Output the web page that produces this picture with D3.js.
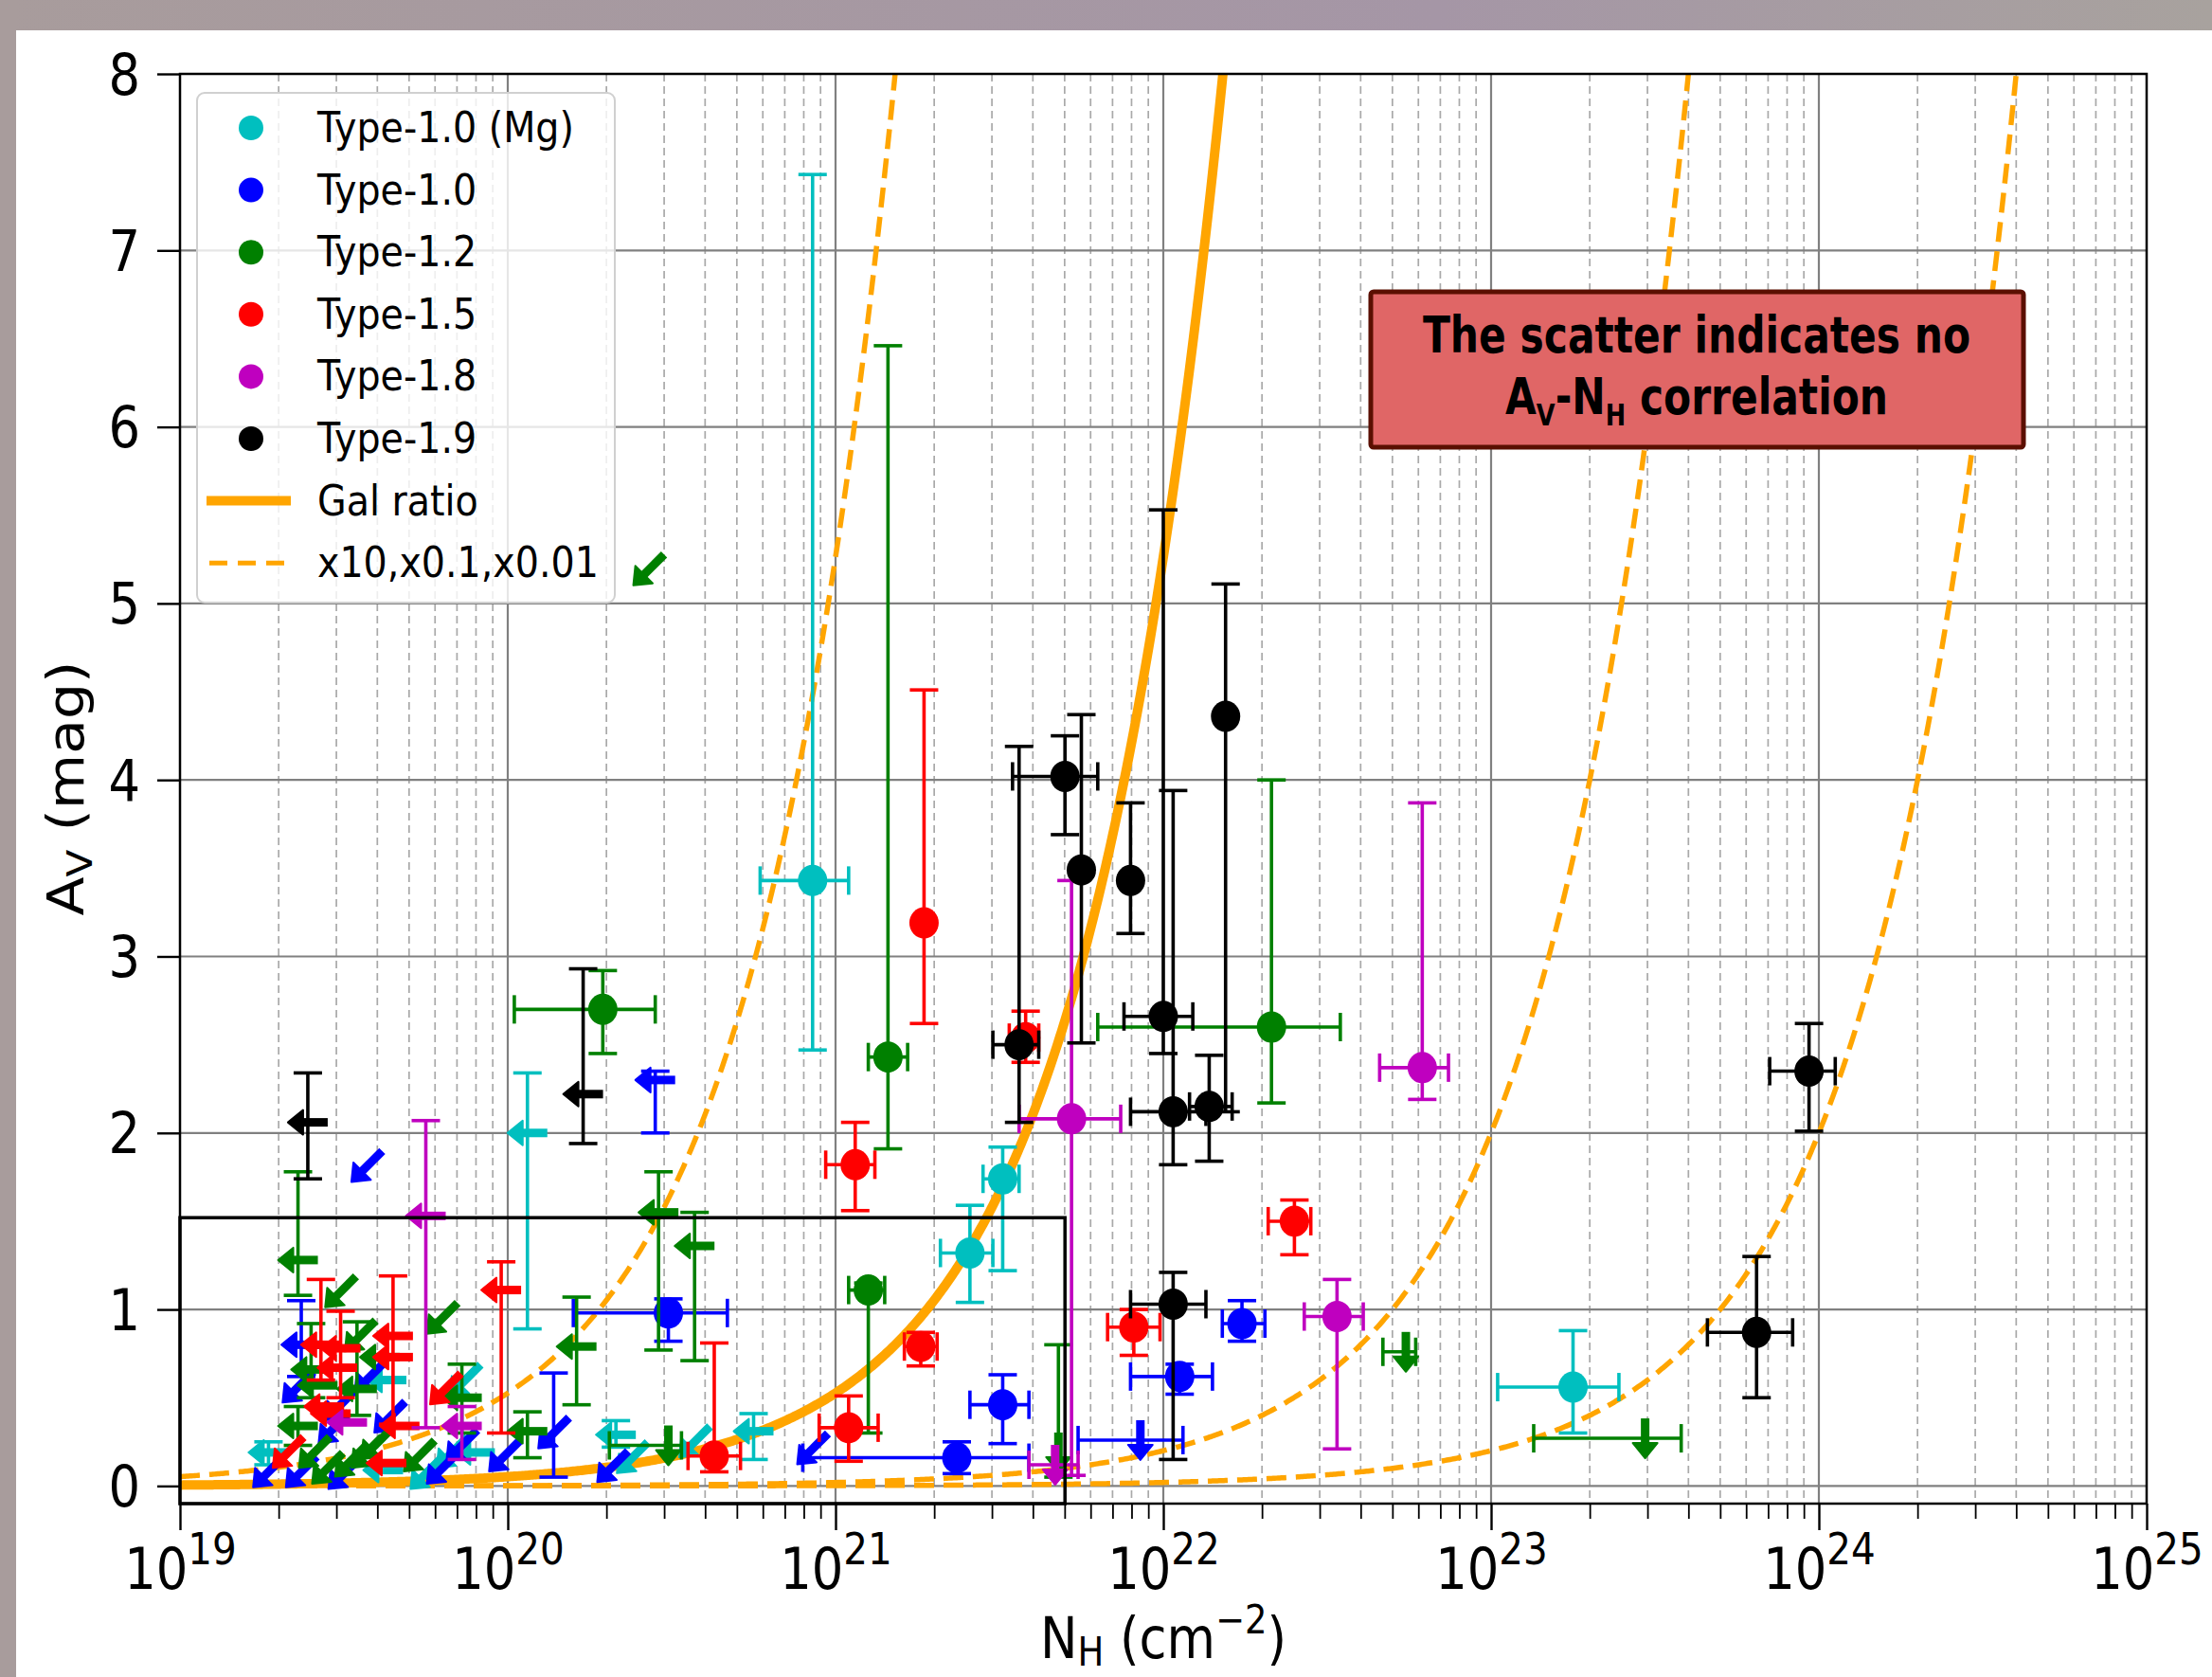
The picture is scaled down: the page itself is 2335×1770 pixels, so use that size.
<!DOCTYPE html>
<html>
<head>
<meta charset="utf-8">
<script src="https://cdn.jsdelivr.net/npm/d3@7"></script>
<style>
  html, body { margin: 0; padding: 0; background: #fff; }
  svg { display: block; }
  text { font-family: "DejaVu Sans", sans-serif; }
</style>
</head>
<body>
<div id="chart"></div>
<script>
// each point: [log10 NH, Av, log10 NH low, log10 NH high, Av low, Av high, kind]
// kind: 'o' detection, 'l' NH upper limit, 'd' NH and Av upper limits, 'v' Av upper limit
const type10Mg = [
  [20.93, 3.43, 20.77, 21.04, 2.47, 7.43, 'o'],
  [21.51, 1.74, 21.45, 21.56, 1.22, 1.92, 'o'],
  [21.41, 1.32, 21.32, 21.48, 1.04, 1.59, 'o'],
  [23.25, 0.56, 23.02, 23.39, 0.30, 0.88, 'o'],
  [20.06, 2.00, null, null, 0.89, 2.34, 'l'],
  [20.33, 0.29, null, null, 0.22, 0.37, 'l'],
  [20.75, 0.31, null, null, 0.15, 0.41, 'l'],
  [20.38, 0.16, null, null, null, null, 'd'],
  [20.57, 0.25, null, null, null, null, 'd'],
  [19.63, 0.60, null, null, null, null, 'l'],
  [19.87, 0.60, null, null, null, null, 'd'],
  [19.27, 0.19, null, null, 0.12, 0.25, 'l'],
  [19.75, 0.07, null, null, null, null, 'd'],
  [19.83, 0.19, null, null, null, null, 'd'],
  [19.90, 0.19, null, null, null, null, 'l'],
  [19.62, 0.09, null, null, null, null, 'l']
];
const type10 = [
  [20.49, 0.98, 20.20, 20.67, 0.82, 1.06, 'o'],
  [21.37, 0.16, 20.90, 21.59, 0.07, 0.25, 'o'],
  [21.51, 0.46, 21.41, 21.59, 0.24, 0.63, 'o'],
  [22.24, 0.92, 22.18, 22.31, 0.82, 1.05, 'o'],
  [22.05, 0.62, 21.90, 22.15, 0.52, 0.69, 'o'],
  [21.93, 0.26, 21.74, 22.06, null, null, 'v'],
  [20.45, 2.30, null, null, 2.00, 2.35, 'l'],
  [19.57, 1.81, null, null, null, null, 'd'],
  [20.93, 0.21, null, null, null, null, 'd'],
  [20.14, 0.30, null, null, 0.05, 0.64, 'd'],
  [19.99, 0.17, null, null, null, null, 'd'],
  [20.32, 0.11, null, null, null, null, 'd'],
  [19.37, 0.80, null, null, 0.62, 1.05, 'l'],
  [19.36, 0.56, null, null, null, null, 'd'],
  [19.58, 0.62, null, null, null, null, 'd'],
  [19.49, 0.46, null, null, null, null, 'd'],
  [19.64, 0.39, null, null, null, null, 'd'],
  [19.47, 0.33, null, null, null, null, 'd'],
  [19.27, 0.08, null, null, null, null, 'd'],
  [19.37, 0.08, null, null, null, null, 'd'],
  [19.50, 0.07, null, null, null, null, 'd'],
  [19.80, 0.10, null, null, null, null, 'd'],
  [19.86, 0.23, null, null, null, null, 'd']
];
const type12 = [
  [20.29, 2.70, 20.02, 20.45, 2.45, 2.92, 'o'],
  [21.16, 2.43, 21.10, 21.22, 1.91, 6.46, 'o'],
  [21.10, 1.11, 21.04, 21.15, 0.30, 1.15, 'o'],
  [22.33, 2.60, 21.80, 22.54, 2.17, 4.00, 'o'],
  [22.74, 0.76, 22.67, 22.77, null, null, 'v'],
  [23.47, 0.27, 23.13, 23.58, null, null, 'v'],
  [20.49, 0.23, 20.31, 20.53, null, null, 'v'],
  [21.68, 0.19, null, null, 0.05, 0.80, 'v'],
  [19.36, 1.28, null, null, 1.08, 1.78, 'l'],
  [20.46, 1.55, null, null, 0.77, 1.78, 'l'],
  [20.57, 1.36, null, null, 0.71, 1.55, 'l'],
  [20.21, 0.79, null, null, 0.46, 1.07, 'l'],
  [20.06, 0.31, null, null, 0.16, 0.42, 'l'],
  [20.43, 5.19, null, null, null, null, 'd'],
  [19.80, 0.95, null, null, null, null, 'd'],
  [19.49, 1.10, null, null, null, null, 'd'],
  [19.40, 0.66, null, null, 0.50, 0.92, 'l'],
  [19.55, 0.85, null, null, null, null, 'd'],
  [19.61, 0.73, null, null, null, null, 'l'],
  [19.42, 0.57, null, null, null, null, 'l'],
  [19.54, 0.55, null, null, 0.40, 0.93, 'l'],
  [19.86, 0.50, null, null, 0.30, 0.69, 'l'],
  [19.36, 0.34, null, null, 0.23, 0.45, 'l'],
  [19.41, 0.19, null, null, null, null, 'd'],
  [19.45, 0.10, null, null, null, null, 'd'],
  [19.52, 0.14, null, null, null, null, 'd'],
  [19.57, 0.19, null, null, null, null, 'd'],
  [19.60, 0.24, null, null, null, null, 'd'],
  [19.73, 0.17, null, null, null, null, 'd']
];
const type15 = [
  [21.27, 3.19, null, null, 2.62, 4.51, 'o'],
  [21.06, 1.82, 20.97, 21.12, 1.56, 2.06, 'o'],
  [21.26, 0.79, 21.21, 21.31, 0.68, 0.87, 'o'],
  [21.04, 0.33, 20.95, 21.13, 0.14, 0.51, 'o'],
  [20.63, 0.17, 20.55, 20.71, 0.08, 0.81, 'o'],
  [21.58, 2.54, 21.53, 21.62, 2.40, 2.69, 'o'],
  [21.91, 0.90, 21.83, 21.99, 0.74, 1.00, 'o'],
  [22.40, 1.50, 22.32, 22.45, 1.31, 1.62, 'o'],
  [19.98, 1.11, null, null, 0.30, 1.27, 'l'],
  [19.43, 0.80, null, null, 0.60, 1.17, 'l'],
  [19.49, 0.78, null, null, 0.50, 0.99, 'l'],
  [19.48, 0.67, null, null, null, null, 'l'],
  [19.65, 0.85, null, null, 0.35, 1.19, 'l'],
  [19.65, 0.73, null, null, null, null, 'l'],
  [19.81, 0.55, null, null, null, null, 'd'],
  [19.44, 0.45, null, null, null, null, 'l'],
  [19.46, 0.41, null, null, null, null, 'l'],
  [19.67, 0.34, null, null, null, null, 'l'],
  [19.33, 0.19, null, null, null, null, 'd'],
  [19.63, 0.13, null, null, null, null, 'l']
];
const type18 = [
  [21.72, 2.08, 21.56, 21.87, 0.06, 3.43, 'o'],
  [22.79, 2.37, 22.66, 22.87, 2.19, 3.87, 'o'],
  [22.53, 0.96, 22.43, 22.61, 0.21, 1.17, 'o'],
  [21.67, 0.12, 21.59, 21.74, null, null, 'v'],
  [19.75, 1.53, null, null, 0.33, 2.07, 'l'],
  [19.51, 0.36, null, null, null, null, 'l'],
  [19.86, 0.34, null, null, 0.15, 0.45, 'l']
];
const type19 = [
  [21.70, 4.02, 21.54, 21.80, 3.69, 4.25, 'o'],
  [21.56, 2.50, 21.48, 21.62, 2.06, 4.19, 'o'],
  [21.75, 3.49, null, null, 2.51, 4.37, 'o'],
  [21.90, 3.43, null, null, 3.13, 3.87, 'o'],
  [22.19, 4.36, null, null, 2.12, 5.11, 'o'],
  [22.00, 2.66, 21.88, 22.09, 2.45, 5.53, 'o'],
  [22.03, 2.12, 21.90, 22.13, 1.82, 3.94, 'o'],
  [22.14, 2.15, 22.08, 22.21, 1.84, 2.44, 'o'],
  [22.03, 1.03, 21.90, 22.13, 0.15, 1.21, 'o'],
  [23.97, 2.35, 23.85, 24.05, 2.01, 2.62, 'o'],
  [23.81, 0.87, 23.66, 23.92, 0.50, 1.30, 'o'],
  [19.39, 2.06, null, null, 1.74, 2.34, 'l'],
  [20.23, 2.22, null, null, 1.94, 2.93, 'l']
];

const seriesNames = ['Type-1.0 (Mg)', 'Type-1.0', 'Type-1.2', 'Type-1.5', 'Type-1.8', 'Type-1.9'];
const seriesColors = ['#00bfbf', '#0000ff', '#008000', '#ff0000', '#bf00bf', '#000000'];
const seriesData = [type10Mg, type10, type12, type15, type18, type19];

const xDecades = [19, 20, 21, 22, 23, 24, 25];
const yTicks = [0, 1, 2, 3, 4, 5, 6, 7, 8];
const galRatio = 1.9e21;               // NH per mag of Av
const scaledRatios = [1.9e20, 5e22, 5e23];
const zoomBox = {logN: [19, 21.7], av: [-0.1, 1.52]};
const lineLabels = ['Gal ratio', 'x10,x0.1,x0.01'];

const W = 2335, H = 1770;
const plot = {left: 190, right: 2266, top: 78, bottom: 1587};
const squish = 'scale(0.88,1)';

const svg = d3.select('#chart').append('svg').attr('width', W).attr('height', H);
const defs = svg.append('defs');

// page frame
const grad = defs.append('linearGradient').attr('id', 'band');
grad.append('stop').attr('offset', '0%').attr('stop-color', '#a89c9c');
grad.append('stop').attr('offset', '65%').attr('stop-color', '#a596a6');
grad.append('stop').attr('offset', '100%').attr('stop-color', '#a8a29e');
svg.append('rect').attr('width', W).attr('height', H).attr('fill', '#fff');
svg.append('rect').attr('width', W).attr('height', 32).attr('fill', 'url(#band)');
svg.append('rect').attr('width', 17).attr('height', H).attr('fill', '#a89c9c');

defs.append('clipPath').attr('id', 'plotclip').append('rect')
  .attr('x', plot.left).attr('y', plot.top)
  .attr('width', plot.right - plot.left).attr('height', plot.bottom - plot.top);

const x = d3.scaleLog().domain([1e19, 1e25]).range([plot.left, plot.right]);
const y = d3.scaleLinear().domain([-0.1, 8]).range([plot.bottom, plot.top]);
const xl = v => x(Math.pow(10, v));

// grid
const minorVals = [];
xDecades.slice(0, -1).forEach(d => { for (let k = 2; k <= 9; k++) minorVals.push(k * Math.pow(10, d)); });
const grid = svg.append('g');
grid.selectAll('.gminor').data(minorVals).enter().append('line')
  .attr('x1', d => x(d)).attr('x2', d => x(d)).attr('y1', plot.top).attr('y2', plot.bottom)
  .attr('stroke', '#a9a9a9').attr('stroke-width', 1.7).attr('stroke-dasharray', '8,5');
grid.selectAll('.gx').data(xDecades.slice(1, -1)).enter().append('line')
  .attr('x1', d => xl(d)).attr('x2', d => xl(d)).attr('y1', plot.top).attr('y2', plot.bottom)
  .attr('stroke', '#808080').attr('stroke-width', 2.2);
grid.selectAll('.gy').data(yTicks.slice(0, -1)).enter().append('line')
  .attr('x1', plot.left).attr('x2', plot.right).attr('y1', d => y(d)).attr('y2', d => y(d))
  .attr('stroke', '#808080').attr('stroke-width', 2.2);

// ratio curves
const curves = svg.append('g').attr('clip-path', 'url(#plotclip)');
const logSteps = d3.range(19, 25.001, 0.005);
const curveLine = ratio => d3.line()
  .x(l => xl(l)).y(l => y(Math.pow(10, l) / ratio))(logSteps.filter(l => Math.pow(10, l) / ratio < 9));
scaledRatios.forEach(r => {
  curves.append('path').attr('d', curveLine(r)).attr('fill', 'none')
    .attr('stroke', '#ffa500').attr('stroke-width', 5.5).attr('stroke-dasharray', '21,10');
});
curves.append('path').attr('d', curveLine(galRatio)).attr('fill', 'none')
  .attr('stroke', '#ffa500').attr('stroke-width', 10);

// markers
function arrow(g, cx, cy, ux, uy, color) {
  const len = (ux !== 0 && uy !== 0) ? 46 : 42;
  const headLen = 16, headHalf = 13;
  const tipX = cx + ux * len / 2, tipY = cy + uy * len / 2;
  const bx = tipX - ux * headLen, by = tipY - uy * headLen;
  g.append('line')
    .attr('x1', cx - ux * len / 2).attr('y1', cy - uy * len / 2)
    .attr('x2', bx + ux * 2).attr('y2', by + uy * 2)
    .attr('stroke', color).attr('stroke-width', 9);
  g.append('polygon')
    .attr('points', [[tipX, tipY], [bx - uy * headHalf, by + ux * headHalf], [bx + uy * headHalf, by - ux * headHalf]]
      .map(p => p.join(',')).join(' '))
    .attr('fill', color).attr('stroke', color).attr('stroke-width', 2).attr('stroke-linejoin', 'round');
}

const cap = 15;
const pts = svg.append('g').attr('clip-path', 'url(#plotclip)');
seriesData.forEach((data, si) => {
  const color = seriesColors[si];
  const g = pts.append('g');
  data.forEach(p => {
    const [ln, av, nLo, nHi, aLo, aHi, kind] = p;
    const cx = xl(ln), cy = y(av);
    if (aLo !== null) {
      g.append('line').attr('x1', cx).attr('x2', cx).attr('y1', y(aLo)).attr('y2', y(aHi))
        .attr('stroke', color).attr('stroke-width', 3.6);
      [aLo, aHi].forEach(a => g.append('line').attr('x1', cx - cap).attr('x2', cx + cap)
        .attr('y1', y(a)).attr('y2', y(a)).attr('stroke', color).attr('stroke-width', 3.6));
    }
    if (nLo !== null) {
      g.append('line').attr('x1', xl(nLo)).attr('x2', xl(nHi)).attr('y1', cy).attr('y2', cy)
        .attr('stroke', color).attr('stroke-width', 3.6);
      [nLo, nHi].forEach(n => g.append('line').attr('x1', xl(n)).attr('x2', xl(n))
        .attr('y1', cy - cap).attr('y2', cy + cap).attr('stroke', color).attr('stroke-width', 3.6));
    }
    if (kind === 'o') {
      g.append('ellipse').attr('cx', cx).attr('cy', cy).attr('rx', 15.5).attr('ry', 16.5).attr('fill', color);
    } else if (kind === 'l') {
      arrow(g, cx, cy, -1, 0, color);
    } else if (kind === 'd') {
      arrow(g, cx, cy, -Math.SQRT1_2, Math.SQRT1_2, color);
    } else if (kind === 'v') {
      arrow(g, cx, cy, 0, 1, color);
    }
  });
});

// zoom box
svg.append('rect')
  .attr('x', xl(zoomBox.logN[0])).attr('y', y(zoomBox.av[1]))
  .attr('width', xl(zoomBox.logN[1]) - xl(zoomBox.logN[0]))
  .attr('height', y(zoomBox.av[0]) - y(zoomBox.av[1]))
  .attr('fill', 'none').attr('stroke', '#000').attr('stroke-width', 3.5);

// spines
svg.append('rect').attr('x', plot.left).attr('y', plot.top)
  .attr('width', plot.right - plot.left).attr('height', plot.bottom - plot.top)
  .attr('fill', 'none').attr('stroke', '#000').attr('stroke-width', 2.5);

// x axis
const gxMinor = svg.append('g').attr('transform', `translate(0,${plot.bottom})`)
  .call(d3.axisBottom(x).tickValues(minorVals).tickSize(16).tickFormat(''));
gxMinor.select('.domain').remove();
gxMinor.selectAll('.tick line').attr('stroke', '#000').attr('stroke-width', 1.8);
gxMinor.selectAll('.tick text').remove();

const gx = svg.append('g').attr('transform', `translate(0,${plot.bottom})`)
  .call(d3.axisBottom(x).tickValues(xDecades.map(d => Math.pow(10, d))).tickSize(28).tickFormat(''));
gx.select('.domain').remove();
gx.selectAll('.tick line').attr('stroke', '#000').attr('stroke-width', 2.4);
gx.selectAll('.tick text').remove();
gx.selectAll('.tick').append('text')
  .attr('transform', `translate(0,90) ${squish}`)
  .attr('text-anchor', 'middle').attr('font-size', 60).attr('fill', '#000')
  .each(function (d) {
    const t = d3.select(this);
    t.append('tspan').text('10');
    t.append('tspan').attr('dy', -26).attr('font-size', 46).text(Math.round(Math.log10(d)));
  });

// y axis
const gy = svg.append('g').attr('transform', `translate(${plot.left},0)`)
  .call(d3.axisLeft(y).tickValues(yTicks).tickSize(24).tickFormat(d3.format('d')));
gy.select('.domain').remove();
gy.selectAll('.tick line').attr('stroke', '#000').attr('stroke-width', 2.4);
gy.selectAll('.tick text')
  .attr('x', 0).attr('dy', '0.35em')
  .attr('transform', `translate(-42,0) ${squish}`)
  .attr('font-size', 60).attr('fill', '#000')
  .attr('font-family', '"DejaVu Sans", sans-serif');

// axis labels
const yLabel = svg.append('text')
  .attr('transform', `translate(88,832) ${squish} rotate(-90)`)
  .attr('text-anchor', 'middle').attr('font-size', 60);
yLabel.append('tspan').text('A');
yLabel.append('tspan').attr('dy', 10).attr('font-size', 42).text('V');
yLabel.append('tspan').attr('dy', -10).text(' (mag)');

const xLabel = svg.append('text')
  .attr('transform', `translate(1228,1750) ${squish}`)
  .attr('text-anchor', 'middle').attr('font-size', 60);
xLabel.append('tspan').text('N');
xLabel.append('tspan').attr('dy', 8).attr('font-size', 42).text('H');
xLabel.append('tspan').attr('dy', -8).text(' (cm');
xLabel.append('tspan').attr('dy', -26).attr('font-size', 42).text('\u22122');
xLabel.append('tspan').attr('dy', 26).text(')');

// legend
const legend = svg.append('g');
legend.append('rect').attr('x', 208).attr('y', 98).attr('width', 441).attr('height', 538)
  .attr('rx', 8).attr('fill', '#fff').attr('fill-opacity', 0.8)
  .attr('stroke', '#d0d0d0').attr('stroke-width', 2);
const rowY = i => 135 + i * 65.6;
seriesNames.forEach((name, i) => {
  legend.append('circle').attr('cx', 265).attr('cy', rowY(i)).attr('r', 13).attr('fill', seriesColors[i]);
  legend.append('text').attr('transform', `translate(335,${rowY(i) + 15}) ${squish}`)
    .attr('font-size', 45).text(name);
});
legend.append('line').attr('x1', 218).attr('x2', 307).attr('y1', rowY(6)).attr('y2', rowY(6))
  .attr('stroke', '#ffa500').attr('stroke-width', 10);
legend.append('line').attr('x1', 221).attr('x2', 300).attr('y1', rowY(7)).attr('y2', rowY(7))
  .attr('stroke', '#ffa500').attr('stroke-width', 5).attr('stroke-dasharray', '19,11');
lineLabels.forEach((name, i) => {
  legend.append('text').attr('transform', `translate(335,${rowY(6 + i) + 15}) ${squish}`)
    .attr('font-size', 45).text(name);
});

// annotation
svg.append('rect').attr('x', 1447).attr('y', 308).attr('width', 689).attr('height', 164)
  .attr('rx', 3).attr('fill', '#e06666').attr('stroke', '#5b0f00').attr('stroke-width', 5);
svg.append('text').attr('transform', 'translate(1791,372) scale(0.8,1)').attr('text-anchor', 'middle')
  .attr('font-family', 'Roboto, sans-serif').attr('font-weight', 700).attr('font-size', 53)
  .text('The scatter indicates no');
const note = svg.append('text').attr('transform', 'translate(1791,437) scale(0.8,1)').attr('text-anchor', 'middle')
  .attr('font-family', 'Roboto, sans-serif').attr('font-weight', 700).attr('font-size', 53);
note.append('tspan').text('A');
note.append('tspan').attr('dy', 12).attr('font-size', 32).text('V');
note.append('tspan').attr('dy', -12).text('-N');
note.append('tspan').attr('dy', 12).attr('font-size', 32).text('H');
note.append('tspan').attr('dy', -12).text(' correlation');
</script>
</body>
</html>
